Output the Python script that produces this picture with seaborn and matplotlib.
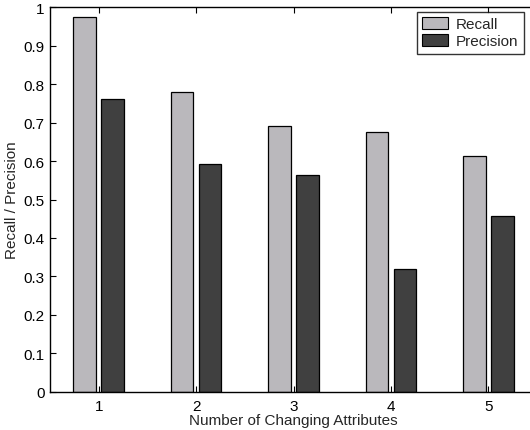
import matplotlib
matplotlib.use("Agg")
import matplotlib.pyplot as plt
import seaborn as sns
import pandas as pd

# Data
attributes = [1, 2, 3, 4, 5]
recall = [0.974, 0.779, 0.692, 0.675, 0.613]
precision = [0.761, 0.592, 0.564, 0.319, 0.457]
series_names = ["Recall", "Precision"]
series_colors = {"Recall": "#bab8bc", "Precision": "#404040"}
y_ticks = [0, 0.1, 0.2, 0.3, 0.4, 0.5, 0.6, 0.7, 0.8, 0.9, 1]
y_tick_labels = ["0", "0.1", "0.2", "0.3", "0.4", "0.5", "0.6", "0.7", "0.8", "0.9", "1"]

df = pd.DataFrame({
    "attrs": attributes * 2,
    "value": recall + precision,
    "series": [series_names[0]] * len(attributes) + [series_names[1]] * len(attributes),
})

sns.set_theme(style="white")
plt.rcParams["font.family"] = ["Liberation Sans", "DejaVu Sans"]
plt.rcParams["font.size"] = 11

fig = plt.figure(figsize=(5.30, 4.31), dpi=100)
ax = fig.add_axes([0.0943, 0.0889, 0.919, 0.8918])

sns.barplot(
    data=df, x="attrs", y="value", hue="series", hue_order=series_names,
    palette=series_colors, native_scale=True, width=0.574, gap=0.19,
    saturation=1, edgecolor="black", linewidth=0.9, ax=ax, legend=True,
)

ax.set_xlim(0.5, 5.5)
ax.set_ylim(0, 1)
ax.set_xticks(attributes)
ax.set_xticklabels([str(a) for a in attributes])
ax.set_yticks(y_ticks)
ax.set_yticklabels(y_tick_labels)
ax.tick_params(axis="both", direction="in", length=4, width=0.8, labelsize=11,
               colors="black", bottom=True, left=True, top=True, right=False)
ax.tick_params(axis="x", pad=5)
ax.tick_params(axis="y", pad=4)

for side in ["top", "bottom", "left"]:
    ax.spines[side].set_visible(True)
    ax.spines[side].set_color("black")
    ax.spines[side].set_linewidth(1.0)
ax.spines["right"].set_visible(False)

ax.set_xlabel("Number of Changing Attributes", fontsize=11, labelpad=0)
ax.set_ylabel("Recall / Precision", fontsize=11, labelpad=3)

leg = ax.legend(
    loc="upper left", bbox_to_anchor=(417 / 530, 1 - 13 / 431),
    bbox_transform=fig.transFigure, frameon=True, fancybox=False,
    edgecolor="black", fontsize=11, handlelength=1.65, handleheight=0.75,
    handletextpad=0.55, borderpad=0.35, labelspacing=0.2, borderaxespad=0,
)
leg.get_frame().set_linewidth(1.0)
for h in leg.legend_handles:
    h.set_edgecolor("black")
    h.set_linewidth(0.8)

fig.savefig("out.png", dpi=100)
